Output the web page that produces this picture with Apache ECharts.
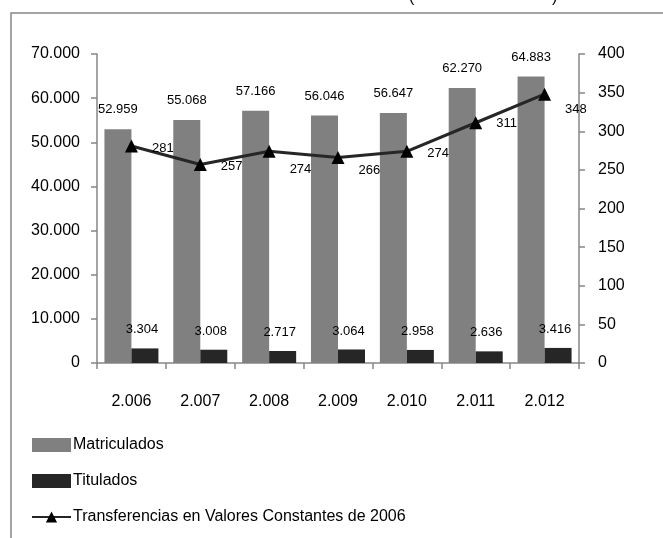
<!DOCTYPE html>
<html>
<head>
<meta charset="utf-8">
<script src="https://cdn.jsdelivr.net/npm/echarts@6/dist/echarts.min.js"></script>
<style>html,body{margin:0;padding:0;background:#fff}#c{width:663px;height:538px}</style>
</head>
<body>
<div id="c"></div>
<script>
var categories = ['2.006', '2.007', '2.008', '2.009', '2.010', '2.011', '2.012'];
var matriculados = [52959, 55068, 57166, 56046, 56647, 62270, 64883];
var titulados = [3304, 3008, 2717, 3064, 2958, 2636, 3416];
var transferencias = [281, 257, 274, 266, 274, 311, 348];
var leftTicks = { min: 0, max: 70000, interval: 10000 };
var rightTicks = { min: 0, max: 400, interval: 50 };

function fmt(v) { return String(v).replace(/\B(?=(\d{3})+(?!\d))/g, '.'); }

var FONT = 'Liberation Sans';
var axisGray = '#868686';
// label nudges for the line labels (vertical), matching the reference placement
var lineLabelDy = [2, 2, 18, 13, 2, 1, 15];

var chart = echarts.init(document.getElementById('c'), null, { renderer: 'canvas' });
chart.setOption({
  animation: false,
  backgroundColor: '#fff',
  textStyle: { fontFamily: FONT },
  graphic: [
    { type: 'rect', shape: { x: 11, y: 13, width: 800, height: 700 }, style: { fill: 'none', stroke: axisGray, lineWidth: 1.5 }, z: -1 },
    { type: 'text', x: 409, y: -10, style: { text: '(', font: '16px ' + FONT, fill: '#000' } },
    { type: 'text', x: 552, y: -10, style: { text: ')', font: '16px ' + FONT, fill: '#000' } }
  ],
  grid: { left: 97, right: 84, top: 54, bottom: 175, containLabel: false },
  legend: {
    orient: 'vertical', left: 26, top: 432, itemWidth: 39, itemHeight: 14, itemGap: 20,
    textStyle: { fontFamily: FONT, fontSize: 16, color: '#000', padding: [0, 0, 0, -3] },
    data: [
      { name: 'Matriculados', icon: 'rect' },
      { name: 'Titulados', icon: 'rect' },
      { name: 'Transferencias en Valores Constantes de 2006' }
    ]
  },
  xAxis: {
    type: 'category', data: categories,
    axisLine: { lineStyle: { color: axisGray, width: 1.5 } },
    axisTick: { show: true, length: 6, lineStyle: { color: axisGray, width: 1.5 } },
    axisLabel: { color: '#000', fontSize: 16, fontFamily: FONT, margin: 31 }
  },
  yAxis: [
    {
      type: 'value', min: leftTicks.min, max: leftTicks.max, interval: leftTicks.interval,
      splitLine: { show: false },
      axisLine: { show: true, lineStyle: { color: axisGray, width: 1.5 } },
      axisTick: { show: true, length: 6, lineStyle: { color: axisGray, width: 1.5 } },
      axisLabel: { color: '#000', fontSize: 16, fontFamily: FONT, margin: 17, formatter: fmt }
    },
    {
      type: 'value', min: rightTicks.min, max: rightTicks.max, interval: rightTicks.interval,
      splitLine: { show: false },
      axisLine: { show: true, lineStyle: { color: axisGray, width: 1.5 } },
      axisTick: { show: true, length: 6, lineStyle: { color: axisGray, width: 1.5 } },
      axisLabel: { color: '#000', fontSize: 16, fontFamily: FONT, margin: 19 }
    }
  ],
  series: [
    {
      name: 'Matriculados', type: 'bar', data: matriculados, barWidth: 27, barGap: '0%',
      itemStyle: { color: '#808080' },
      label: { show: true, position: 'top', distance: 13, fontSize: 13, fontFamily: FONT, color: '#000', formatter: function (p) { return fmt(p.value); } }
    },
    {
      name: 'Titulados', type: 'bar', data: titulados, barWidth: 27, barGap: '0%',
      itemStyle: { color: '#262626' },
      label: { show: true, position: 'top', distance: 12, offset: [-3, 0], fontSize: 13, fontFamily: FONT, color: '#000', formatter: function (p) { return fmt(p.value); } }
    },
    {
      name: 'Transferencias en Valores Constantes de 2006', type: 'line', yAxisIndex: 1,
      data: transferencias.map(function (v, i) {
        return { value: v, label: { offset: [0, lineLabelDy[i]] } };
      }),
      symbol: 'triangle', symbolSize: 13,
      lineStyle: { color: '#262626', width: 3 },
      itemStyle: { color: '#000' },
      label: { show: true, position: 'right', distance: 14, fontSize: 13, fontFamily: FONT, color: '#000' },
      z: 5
    }
  ]
});
</script>
</body>
</html>
